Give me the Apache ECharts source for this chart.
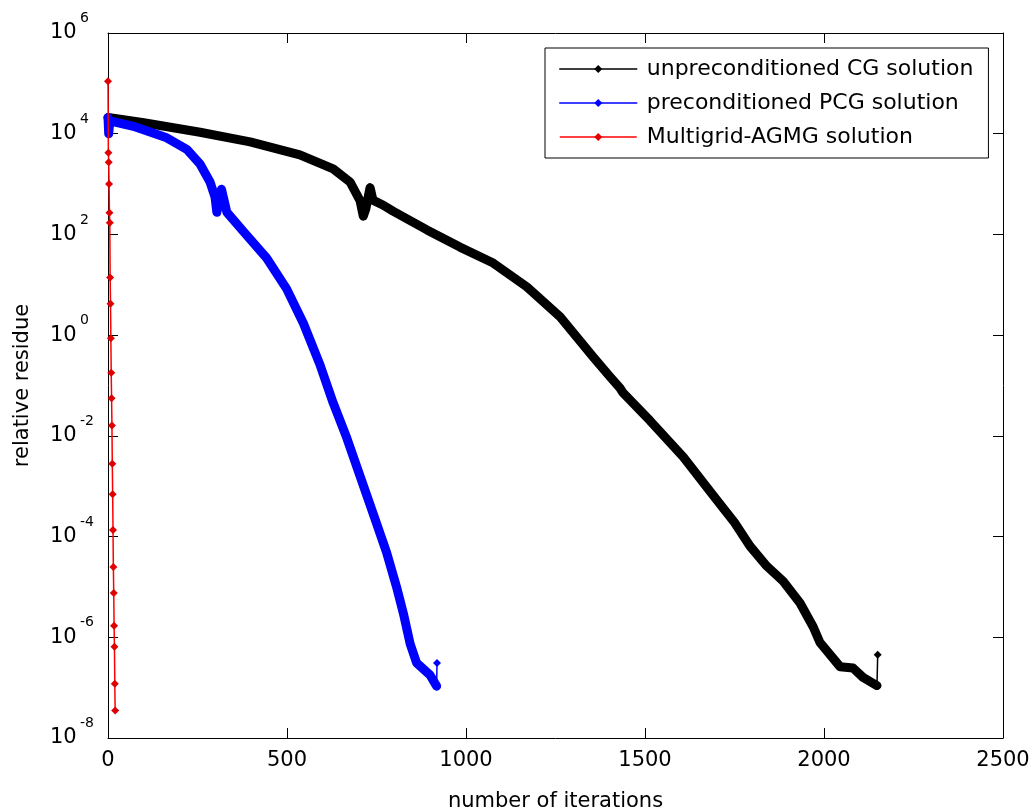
<!DOCTYPE html>
<html><head><meta charset="utf-8">
<script src="https://cdn.jsdelivr.net/npm/echarts@6/dist/echarts.min.js"></script>
<style>html,body{margin:0;padding:0;background:#fff;} #c{width:1035px;height:810px;}</style>
</head><body><div id="c"></div>
<script>
// ---- data ----
const seriesNames = ['unpreconditioned CG solution', 'preconditioned PCG solution', 'Multigrid-AGMG solution'];
const xTicks = [0, 500, 1000, 1500, 2000, 2500];
const yTicks = [1e-8, 1e-6, 1e-4, 1e-2, 1, 1e2, 1e4, 1e6];

const cgIter = [0, 100, 257, 397, 536, 629, 676, 704, 713, 720, 732, 740, 769, 796, 891, 983, 1076, 1170, 1263, 1355, 1402, 1430, 1439, 1514, 1607, 1700, 1750, 1793, 1840, 1886, 1933, 1970, 1989, 2045, 2081, 2109, 2148, 2150];
const cgRes  = [2.1e4, 1.65e4, 1.07e4, 6.9e3, 3.8e3, 2.0e3, 1.1e3, 4.7e2, 2.3e2, 3.2e2, 8.5e2, 4.8e2, 3.8e2, 2.9e2, 1.23e2, 56, 27, 9.1, 2.3, 0.37, 0.15, 0.089, 0.071, 0.020, 3.8e-3, 5.4e-4, 1.9e-4, 6.5e-5, 2.6e-5, 1.3e-5, 4.8e-6, 1.6e-6, 7.8e-7, 2.6e-7, 2.45e-7, 1.6e-7, 1.1e-7, 4.5e-7];

const pcgIter = [0, 2, 5, 71, 164, 220, 257, 285, 299, 304, 317, 332, 378, 443, 499, 546, 592, 629, 667, 704, 741, 778, 806, 825, 844, 862, 899, 918, 919];
const pcgRes  = [2.1e4, 1.0e4, 1.8e4, 1.4e4, 8.3e3, 4.9e3, 2.5e3, 1.1e3, 5.5e2, 2.75e2, 7.9e2, 2.75e2, 1.15e2, 34, 8.3, 1.7, 0.26, 0.045, 9.1e-3, 1.6e-3, 2.8e-4, 4.9e-5, 1.0e-5, 3.0e-6, 7.4e-7, 3.1e-7, 1.8e-7, 1.07e-7, 3.1e-7];

const mgIter = [0, 1, 2, 3, 4, 5, 6, 7, 8, 9, 10, 11, 12, 13, 14, 15, 16, 17, 18, 19, 20];
const mgRes  = [1.1e5, 4.2e3, 2.7e3, 1.0e3, 2.7e2, 1.7e2, 14, 4.2, 0.87, 0.18, 0.056, 0.016, 2.8e-3, 6.9e-4, 1.35e-4, 2.5e-5, 7.6e-6, 1.7e-6, 6.5e-7, 1.2e-7, 3.5e-8];

// ---- build ----
const FONT = 'DejaVu Sans';
function pairs(xs, ys) { return xs.map((x, i) => [x, ys[i]]); }
const cg = pairs(cgIter, cgRes);
const pcg = pairs(pcgIter, pcgRes);
const mg = pairs(mgIter, mgRes);

const chart = echarts.init(document.getElementById('c'), null, { renderer: 'canvas' });

const tickStyle = { show: true, inside: true, length: 10, lineStyle: { color: '#000', width: 1 } };
const lineAx = { show: true, onZero: false, lineStyle: { color: '#000', width: 1 } };

function thick(name, data, color) {
  return {
    name: name, type: 'line', data: data, xAxisIndex: 0, yAxisIndex: 0,
    symbol: 'diamond', showSymbol: false, clip: false, animation: false,
    color: color,
    lineStyle: { color: color, width: 9, cap: 'round', join: 'round' },
    itemStyle: { color: color }
  };
}
function tail(name, data, color) {
  return {
    name: name, type: 'line', data: data, clip: false, animation: false,
    symbol: 'diamond', symbolSize: 8, showSymbol: true,
    lineStyle: { color: color, width: 1.5 }, itemStyle: { color: color }
  };
}

chart.setOption({
  backgroundColor: '#fff',
  animation: false,
  grid: { left: 108, right: 32, top: 33, bottom: 72, outerBoundsMode: 'none', containLabel: false },
  xAxis: [{
    type: 'value', min: xTicks[0], max: xTicks[xTicks.length - 1], interval: xTicks[1] - xTicks[0],
    position: 'bottom', axisLine: lineAx, axisTick: tickStyle, splitLine: { show: false },
    axisLabel: { margin: 12, fontFamily: FONT, fontSize: 21, color: '#000', formatter: v => String(v) },
    name: 'number of iterations', nameLocation: 'middle', nameGap: 53,
    nameTextStyle: { fontFamily: FONT, fontSize: 21, color: '#000' }
  }, {
    type: 'value', min: xTicks[0], max: xTicks[xTicks.length - 1], interval: xTicks[1] - xTicks[0],
    position: 'top', axisLine: lineAx, axisTick: tickStyle, splitLine: { show: false },
    axisLabel: { show: false }
  }],
  yAxis: [{
    type: 'log', logBase: 10, min: yTicks[0], max: yTicks[yTicks.length - 1],
    position: 'left', axisLine: lineAx, splitLine: { show: false },
    axisTick: Object.assign({ customValues: yTicks }, tickStyle),
    minorTick: { show: false },
    axisLabel: {
      customValues: yTicks,
      margin: 58, align: 'left', verticalAlign: 'middle', padding: [0, 0, 8, 0],
      formatter: function (v) { const e = Math.round(Math.log10(v)); return '{e|' + e + '}\n{b|10}'; },
      rich: {
        b: { fontFamily: FONT, fontSize: 21, color: '#000', lineHeight: 21 },
        e: { fontFamily: FONT, fontSize: 14, color: '#000', lineHeight: 8, padding: [0, 0, 0, 30] }
      }
    },
    name: 'relative residue', nameLocation: 'middle', nameGap: 75, nameRotate: 90,
    nameTextStyle: { fontFamily: FONT, fontSize: 21, color: '#000' }
  }, {
    type: 'log', logBase: 10, min: yTicks[0], max: yTicks[yTicks.length - 1],
    position: 'right', axisLine: lineAx, splitLine: { show: false },
    axisTick: Object.assign({ customValues: yTicks }, tickStyle),
    axisLabel: { show: false }
  }],
  legend: {
    data: seriesNames,
    orient: 'vertical', left: 545, top: 48,
    padding: [10, 15, 10, 14],
    itemWidth: 77, itemHeight: 10, itemGap: 12,
    borderColor: '#000', borderWidth: 1, backgroundColor: '#fff',
    selectedMode: false,
    lineStyle: { width: 1.5 },
    textStyle: { fontFamily: FONT, fontSize: 22, color: '#000', padding: [0, 0, 0, 5] }
  },
  series: [
    thick(seriesNames[0], cg.slice(0, cg.length - 1), '#000000'),
    tail('cg-final', cg.slice(cg.length - 2), '#000000'),
    thick(seriesNames[1], pcg.slice(0, pcg.length - 1), '#0000ff'),
    tail('pcg-final', pcg.slice(pcg.length - 2), '#0000ff'),
    {
      name: seriesNames[2], type: 'line', data: mg, clip: false, animation: false,
      symbol: 'diamond', symbolSize: 8, showSymbol: true,
      color: '#ff0000',
      lineStyle: { color: '#ff0000', width: 1.5 }, itemStyle: { color: '#e00000' }
    }
  ]
});
</script>
</body></html>
